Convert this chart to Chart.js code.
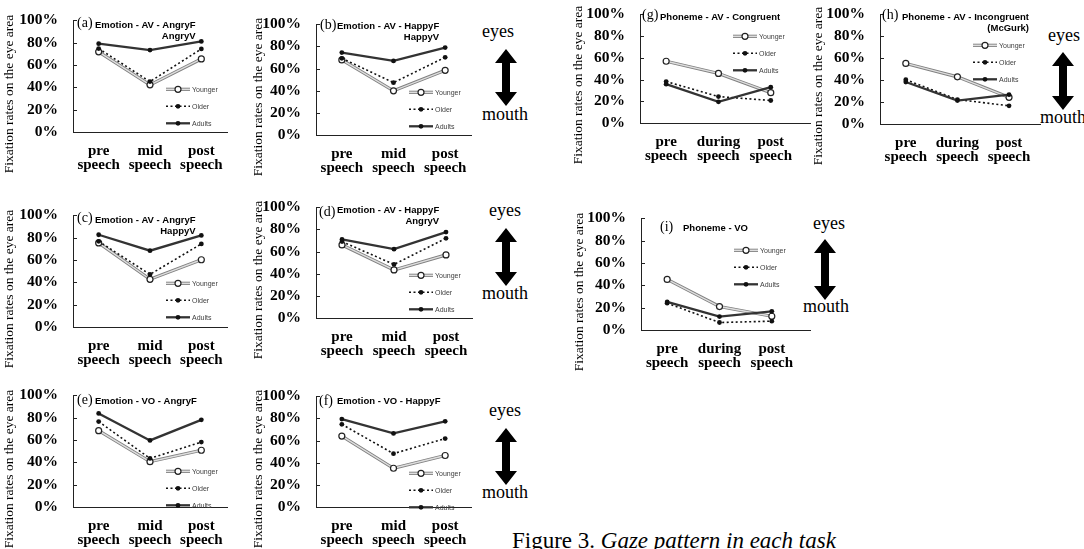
<!DOCTYPE html>
<html>
<head>
<meta charset="utf-8">
<script src="https://cdn.jsdelivr.net/npm/chart.js@4/dist/chart.umd.min.js"></script>
<style>
  body { margin: 0; background: #fff; width: 1084px; height: 549px; overflow: hidden; position: relative; }
  canvas.panel { position: absolute; }
  #deco { position: absolute; left: 0; top: 0; }
</style>
</head>
<body>
<svg id="deco" width="1084" height="549"></svg>
<script>
const groups = ['Younger', 'Older', 'Adults'];
const emotionStages = [['pre', 'speech'], ['mid', 'speech'], ['post', 'speech']];
const phonemeStages = [['pre', 'speech'], ['during', 'speech'], ['post', 'speech']];
const yTicks = [0, 20, 40, 60, 80, 100];

// (a) Emotion - AV - AngryF AngryV
const youngerA = [71.8, 42.2, 65.4];
const olderA = [74.7, 45.1, 74.4];
const adultsA = [79.1, 73.3, 81.1];
// (b) Emotion - AV - HappyF HappyV
const youngerB = [67.8, 39.9, 58.4];
const olderB = [69.3, 47.3, 70.2];
const adultsB = [74.5, 66.9, 79.0];
// (c) Emotion - AV - AngryF HappyV
const youngerC = [75.3, 42.7, 60.2];
const olderC = [76.7, 47.1, 74.4];
const adultsC = [82.6, 68.3, 82.0];
// (d) Emotion - AV - HappyF AngryV
const youngerD = [66.0, 43.4, 57.0];
const olderD = [69.0, 48.4, 72.0];
const adultsD = [71.0, 62.2, 77.6];
// (e) Emotion - VO - AngryF
const youngerE = [68.3, 40.6, 50.8];
const olderE = [76.5, 43.5, 58.1];
const adultsE = [83.8, 59.6, 78.0];
// (f) Emotion - VO - HappyF
const youngerF = [64.1, 35.0, 46.5];
const olderF = [74.7, 48.2, 61.8];
const adultsF = [79.4, 66.5, 77.4];
// (g) Phoneme - AV - Congruent
const youngerG = [56.8, 45.6, 27.9];
const olderG = [38.1, 24.3, 20.7];
const adultsG = [35.7, 19.5, 33.0];
// (h) Phoneme - AV - Incongruent (McGurk)
const youngerH = [55.2, 43.0, 24.3];
const olderH = [40.4, 22.3, 16.6];
const adultsH = [38.3, 21.4, 26.7];
// (i) Phoneme - VO
const youngerI = [45.3, 21.0, 12.3];
const olderI = [24.0, 6.7, 7.9];
const adultsI = [25.1, 12.0, 16.7];

// where each small chart sits on the page (axis corner positions)
const panels = [
  { tag: '(a)', title: ['Emotion - AV - AngryF', 'AngryV'], stages: emotionStages, series: [youngerA, olderA, adultsA],
    L: 73, T: 18, B: 132, R: 227, xMax: 2.5, tagX: 4, tagY: 3, tX: 22, tY: 5, legY: 69, yt: -64 },
  { tag: '(b)', title: ['Emotion - AV - HappyF', 'HappyV'], stages: emotionStages, series: [youngerB, olderB, adultsB],
    L: 316, T: 22, B: 135, R: 471, xMax: 2.5, tagX: 4, tagY: 1, tX: 21, tY: 2, legY: 68, yt: -58 },
  { tag: '(c)', title: ['Emotion - AV - AngryF', 'HappyV'], stages: emotionStages, series: [youngerC, olderC, adultsC],
    L: 73, T: 213, B: 327, R: 227, xMax: 2.5, tagX: 4, tagY: 3, tX: 22, tY: 5, legY: 68, yt: -64 },
  { tag: '(d)', title: ['Emotion - AV - HappyF', 'AngryV'], stages: emotionStages, series: [youngerD, olderD, adultsD],
    L: 316, T: 205, B: 318, R: 472, xMax: 2.5, tagX: 3, tagY: 5, tX: 21, tY: 3, legY: 68, yt: -58 },
  { tag: '(e)', title: ['Emotion - VO - AngryF'], stages: emotionStages, series: [youngerE, olderE, adultsE],
    L: 73, T: 393, B: 507, R: 227, xMax: 2.5, tagX: 4, tagY: 5, tX: 22, tY: 6, legY: 76, yt: -64 },
  { tag: '(f)', title: ['Emotion - VO - HappyF'], stages: emotionStages, series: [youngerF, olderF, adultsF],
    L: 316, T: 394, B: 507, R: 471, xMax: 2.5, tagX: 3, tagY: 5, tX: 21, tY: 5, legY: 77, yt: -58 },
  { tag: '(g)', title: ['Phoneme - AV - Congruent'], stages: phonemeStages, series: [youngerG, olderG, adultsG],
    L: 640, T: 12, B: 123, R: 810, xMax: 2.75, tagX: 2, tagY: 1, tX: 20, tY: 3, legY: 22, yt: -62 },
  { tag: '(h)', title: ['Phoneme - AV - Incongruent', '(McGurk)'], stages: phonemeStages, series: [youngerH, olderH, adultsH],
    L: 880, T: 12, B: 124, R: 1040, xMax: 2.6, tagX: 2, tagY: 1, tX: 22, tY: 3, legY: 31, yt: -62 },
  { tag: '(i)', title: ['Phoneme - VO'], stages: phonemeStages, series: [youngerI, olderI, adultsI],
    L: 641, T: 216, B: 330, R: 810, xMax: 2.73, tagX: 19, tagY: 9, tX: 42, tY: 10, legY: 32, yt: -62 }
];

const axisW = 72, axisH = 52, padTop = 14, padRight = 12;

function drawMarker(ctx, kind, x, y) {
  ctx.beginPath();
  if (kind === 0) {
    ctx.arc(x, y, 3, 0, Math.PI * 2);
    ctx.fillStyle = '#fff'; ctx.fill();
    ctx.lineWidth = 1.2; ctx.strokeStyle = '#222'; ctx.setLineDash([]); ctx.stroke();
  } else {
    ctx.arc(x, y, 2.4, 0, Math.PI * 2);
    ctx.fillStyle = '#111'; ctx.fill();
  }
}

const panelDecor = {
  id: 'panelDecor',
  afterDraw(chart, args, opts) {
    const p = opts.panel;
    const { ctx, chartArea: a } = chart;
    const ys = chart.scales.y;
    ctx.save();
    // inside tick marks on the value axis
    ctx.strokeStyle = '#222'; ctx.lineWidth = 1;
    yTicks.forEach(v => {
      const y = Math.round(ys.getPixelForValue(v)) + 0.5;
      ctx.beginPath(); ctx.moveTo(a.left, y); ctx.lineTo(a.left + 4, y); ctx.stroke();
    });
    // axis title
    ctx.save();
    ctx.translate(a.left + p.yt, a.bottom - 38);
    ctx.rotate(-Math.PI / 2);
    ctx.font = '13.5px "Liberation Serif"';
    ctx.fillStyle = '#000'; ctx.textAlign = 'center'; ctx.textBaseline = 'middle';
    ctx.fillText('Fixation rates on the eye area', 0, 0);
    ctx.restore();
    // panel tag and title
    ctx.fillStyle = '#000'; ctx.textBaseline = 'middle'; ctx.textAlign = 'left';
    ctx.font = '14px "Liberation Serif"';
    ctx.fillText(p.tag, a.left + p.tagX, a.top + p.tagY);
    ctx.font = 'bold 9.5px "Liberation Sans"';
    const tx = a.left + p.tX;
    ctx.fillText(p.title[0], tx, a.top + p.tY);
    if (p.title[1]) {
      const end = tx + ctx.measureText(p.title[0]).width;
      ctx.textAlign = 'right';
      ctx.fillText(p.title[1], end, a.top + p.tY + 11);
    }
    // legend
    const x0 = a.left + 93, x1 = x0 + 24;
    groups.forEach((g, i) => {
      const y = a.top + p.legY + i * 17;
      if (i === 0) {
        ctx.setLineDash([]);
        ctx.strokeStyle = '#808080'; ctx.lineWidth = 3.2;
        ctx.beginPath(); ctx.moveTo(x0, y); ctx.lineTo(x1, y); ctx.stroke();
        ctx.strokeStyle = '#dedede'; ctx.lineWidth = 1.4;
        ctx.beginPath(); ctx.moveTo(x0, y); ctx.lineTo(x1, y); ctx.stroke();
      } else if (i === 1) {
        ctx.setLineDash([2, 2.5]);
        ctx.strokeStyle = '#111'; ctx.lineWidth = 1.6;
        ctx.beginPath(); ctx.moveTo(x0, y); ctx.lineTo(x1, y); ctx.stroke();
      } else {
        ctx.setLineDash([]);
        ctx.strokeStyle = '#333'; ctx.lineWidth = 2.3;
        ctx.beginPath(); ctx.moveTo(x0, y); ctx.lineTo(x1, y); ctx.stroke();
      }
      drawMarker(ctx, i, (x0 + x1) / 2, y);
      ctx.fillStyle = '#404040'; ctx.textAlign = 'left'; ctx.textBaseline = 'middle';
      ctx.font = '7px "Liberation Sans"';
      ctx.fillText(g, x1 + 2, y + 0.5);
    });
    ctx.restore();
  }
};

panels.forEach(p => {
  const cv = document.createElement('canvas');
  cv.className = 'panel';
  const w = axisW + (p.R - p.L) + padRight;
  const h = padTop + (p.B - p.T) + axisH;
  cv.width = w; cv.height = h;
  cv.style.left = (p.L - axisW) + 'px';
  cv.style.top = (p.T - padTop) + 'px';
  document.body.appendChild(cv);

  const pts = arr => arr.map((v, i) => ({ x: i, y: v }));
  const [yo, ol, ad] = p.series;

  new Chart(cv, {
    type: 'line',
    data: {
      datasets: [
        { label: 'Adults', data: pts(ad), borderColor: '#333', borderWidth: 2.3,
          pointRadius: 2.4, pointBackgroundColor: '#111', pointBorderWidth: 0, order: 1 },
        { label: 'Older', data: pts(ol), borderColor: '#111', borderWidth: 1.6, borderDash: [2, 2.5],
          pointRadius: 2.4, pointBackgroundColor: '#111', pointBorderWidth: 0, order: 2 },
        { label: 'Younger', data: pts(yo), borderColor: '#dedede', borderWidth: 1.4,
          pointRadius: 3, pointBackgroundColor: '#fff', pointBorderColor: '#222', pointBorderWidth: 1.2, order: 3 },
        { label: 'Younger edge', data: pts(yo), borderColor: '#808080', borderWidth: 3.2,
          pointRadius: 0, order: 4 }
      ]
    },
    options: {
      responsive: false,
      animation: false,
      devicePixelRatio: 1,
      events: [],
      clip: false,
      layout: { padding: { top: padTop, right: padRight, left: 0, bottom: 0 } },
      elements: { line: { tension: 0, fill: false } },
      scales: {
        x: {
          type: 'linear', min: -0.5, max: p.xMax, bounds: 'data',
          afterBuildTicks: s => { s.ticks = p.stages.map((_, i) => ({ value: i })); },
          afterFit: s => { s.height = axisH; },
          grid: { display: false },
          border: { display: true, color: '#222', width: 1 },
          ticks: {
            callback: v => p.stages[v],
            color: '#000', maxRotation: 0, autoSkip: false, padding: 5,
            font: { family: '"Liberation Serif"', weight: 'bold', size: 15, lineHeight: 0.88 }
          }
        },
        y: {
          min: 0, max: 100,
          afterBuildTicks: s => { s.ticks = yTicks.map(v => ({ value: v })); },
          afterFit: s => { s.width = axisW; },
          grid: { display: false },
          border: { display: true, color: '#222', width: 1 },
          ticks: {
            callback: v => v + '%', color: '#000', padding: 7,
            font: { family: '"Liberation Serif"', weight: 'bold', size: 15.5 }
          }
        }
      },
      plugins: {
        legend: { display: false },
        tooltip: { enabled: false },
        panelDecor: { panel: p }
      }
    },
    plugins: [panelDecor]
  });
});

// eyes / mouth direction markers and the caption
const markers = [
  { cx: 506, top: 49, bottom: 106, eyesX: 482, eyesY: 37, mouthX: 482, mouthY: 120 },
  { cx: 506, top: 228, bottom: 286, eyesX: 489, eyesY: 216, mouthX: 482, mouthY: 299 },
  { cx: 506, top: 428, bottom: 485, eyesX: 489, eyesY: 416, mouthX: 482, mouthY: 498 },
  { cx: 1063, top: 52, bottom: 110, eyesX: 1048, eyesY: 41, mouthX: 1040, mouthY: 123 },
  { cx: 825, top: 239, bottom: 300, eyesX: 813, eyesY: 229, mouthX: 803, mouthY: 312 }
];
const NS = 'http://www.w3.org/2000/svg';
const svg = document.getElementById('deco');
function svgEl(name, attrs, text) {
  const el = document.createElementNS(NS, name);
  Object.entries(attrs).forEach(([k, v]) => el.setAttribute(k, v));
  if (text) el.textContent = text;
  svg.appendChild(el);
  return el;
}
markers.forEach(m => {
  const hw = 11, hh = 14, sw = 4;
  const c = m.cx, t = m.top, b = m.bottom;
  const pts = [[c, t], [c + hw, t + hh], [c + sw, t + hh], [c + sw, b - hh], [c + hw, b - hh], [c, b],
               [c - hw, b - hh], [c - sw, b - hh], [c - sw, t + hh], [c - hw, t + hh]];
  svgEl('polygon', { points: pts.map(q => q.join(',')).join(' '), fill: '#000' });
  svgEl('text', { x: m.eyesX, y: m.eyesY, 'font-family': 'Liberation Serif', 'font-size': 18, fill: '#000' }, 'eyes');
  svgEl('text', { x: m.mouthX, y: m.mouthY, 'font-family': 'Liberation Serif', 'font-size': 18, fill: '#000' }, 'mouth');
});
const cap = svgEl('text', { x: 512, y: 548, 'font-family': 'Liberation Serif', 'font-size': 23, fill: '#000' }, 'Figure 3. ');
const capIt = document.createElementNS(NS, 'tspan');
capIt.setAttribute('font-style', 'italic');
capIt.textContent = 'Gaze pattern in each task';
cap.appendChild(capIt);
</script>
</body>
</html>
